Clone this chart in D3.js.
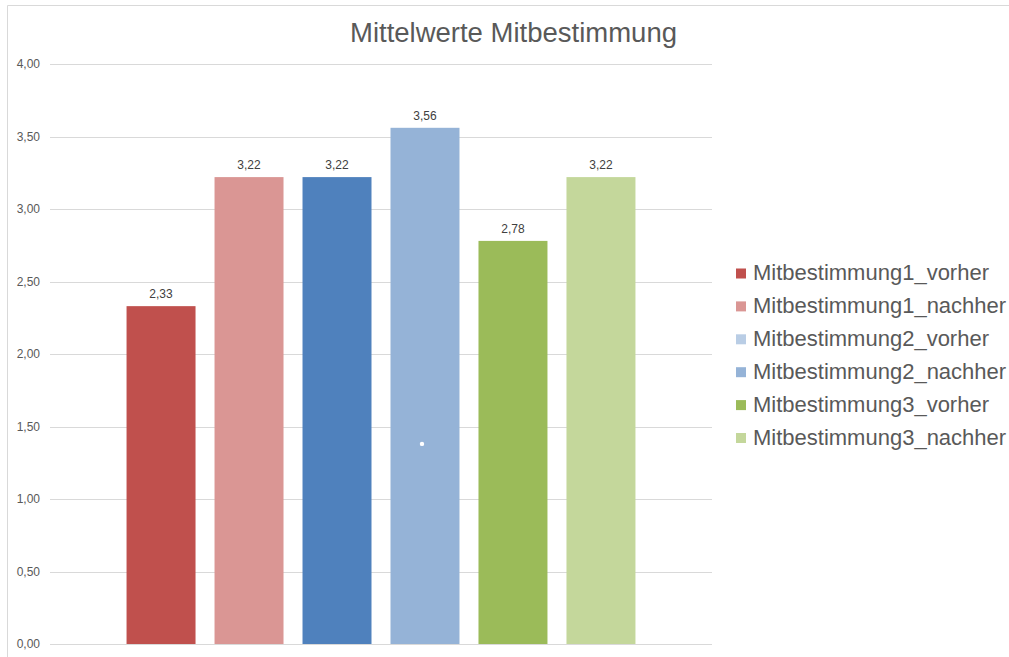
<!DOCTYPE html>
<html>
<head>
<meta charset="utf-8">
<script src="https://cdn.jsdelivr.net/npm/d3@7/dist/d3.min.js"></script>
<style>
  html, body { margin: 0; padding: 0; background: #ffffff; }
  svg { display: block; font-family: "Liberation Sans", Arial, sans-serif; }
</style>
</head>
<body>
<svg id="chart" width="1009" height="657"></svg>
<script>
// Series names (one bar per series, single category)
const seriesNames = [
  "Mitbestimmung1_vorher",
  "Mitbestimmung1_nachher",
  "Mitbestimmung2_vorher",
  "Mitbestimmung2_nachher",
  "Mitbestimmung3_vorher",
  "Mitbestimmung3_nachher"
];
// Mean values per series
const meanValues = [2.33, 3.22, 3.22, 3.56, 2.78, 3.22];
// Fill colours of the bars
const barColors = ["#c0504d", "#da9694", "#4f81bd", "#95b3d7", "#9bbb59", "#c4d79b"];
// Swatch colours shown in the legend
const legendColors = ["#c0504d", "#da9694", "#b9cde5", "#95b3d7", "#9bbb59", "#c4d79b"];
// Y axis ticks
const yTicks = [0, 0.5, 1, 1.5, 2, 2.5, 3, 3.5, 4];
// Small white marker inside the fourth bar
const markerSeries = "Mitbestimmung2_nachher";
const markerValue = 1.38;

const titleText = "Mittelwerte Mitbestimmung";

const svg = d3.select("#chart");
const fmt = v => d3.format(".2f")(v).replace(".", ",");

// outer frame (top and left edges)
svg.append("line").attr("x1", 7.5).attr("x2", 1009).attr("y1", 5.5).attr("y2", 5.5)
  .attr("stroke", "#d9d9d9").attr("stroke-width", 1);
svg.append("line").attr("x1", 7.5).attr("x2", 7.5).attr("y1", 5.5).attr("y2", 657)
  .attr("stroke", "#d9d9d9").attr("stroke-width", 1);

const plot = { left: 50, right: 712, top: 64, bottom: 644 };

const y = d3.scaleLinear().domain([0, 4]).range([plot.bottom, plot.top]);
const x = d3.scaleBand().domain(seriesNames)
  .range([plot.left, plot.right])
  .paddingInner(0.216)
  .paddingOuter(0.87);

// gridlines
svg.append("g").selectAll("line").data(yTicks).join("line")
  .attr("x1", plot.left).attr("x2", plot.right)
  .attr("y1", d => Math.round(y(d)) + 0.5).attr("y2", d => Math.round(y(d)) + 0.5)
  .attr("stroke", "#d9d9d9").attr("stroke-width", 1);

// y axis labels
const yAxis = d3.axisLeft(y).tickValues(yTicks).tickFormat(fmt).tickSize(0).tickPadding(0);
const yg = svg.append("g").attr("transform", "translate(40,0)").call(yAxis);
yg.select(".domain").remove();
yg.selectAll("text")
  .attr("fill", "#595959")
  .attr("font-size", "12px")
  .attr("font-family", "'Liberation Sans', Arial, sans-serif");

// bars
svg.append("g").selectAll("rect").data(seriesNames).join("rect")
  .attr("x", d => x(d))
  .attr("width", x.bandwidth())
  .attr("y", (d, i) => y(meanValues[i]))
  .attr("height", (d, i) => y(0) - y(meanValues[i]))
  .attr("fill", (d, i) => barColors[i]);

// value labels
svg.append("g").selectAll("text").data(seriesNames).join("text")
  .attr("x", d => x(d) + x.bandwidth() / 2)
  .attr("y", (d, i) => y(meanValues[i]) - 8)
  .attr("text-anchor", "middle")
  .attr("font-size", "12px")
  .attr("fill", "#404040")
  .text((d, i) => fmt(meanValues[i]));

// marker dot
svg.append("circle")
  .attr("cx", x(markerSeries) + x.bandwidth() / 2 - 3)
  .attr("cy", y(markerValue))
  .attr("r", 2.2)
  .attr("fill", "#ffffff");

// title
svg.append("text")
  .attr("x", 513.5).attr("y", 42)
  .attr("text-anchor", "middle")
  .attr("font-size", "27.5px")
  .attr("fill", "#595959")
  .text(titleText);

// legend
const legend = svg.append("g").attr("transform", "translate(736,268.5)");
const rows = legend.selectAll("g").data(seriesNames).join("g")
  .attr("transform", (d, i) => `translate(0,${i * 32.9})`);
rows.append("rect")
  .attr("x", 0).attr("y", 0).attr("width", 10).attr("height", 10)
  .attr("fill", (d, i) => legendColors[i]);
rows.append("text")
  .attr("x", 17).attr("y", 11.5)
  .attr("font-size", "22px")
  .attr("fill", "#595959")
  .text(d => d);
</script>
</body>
</html>
